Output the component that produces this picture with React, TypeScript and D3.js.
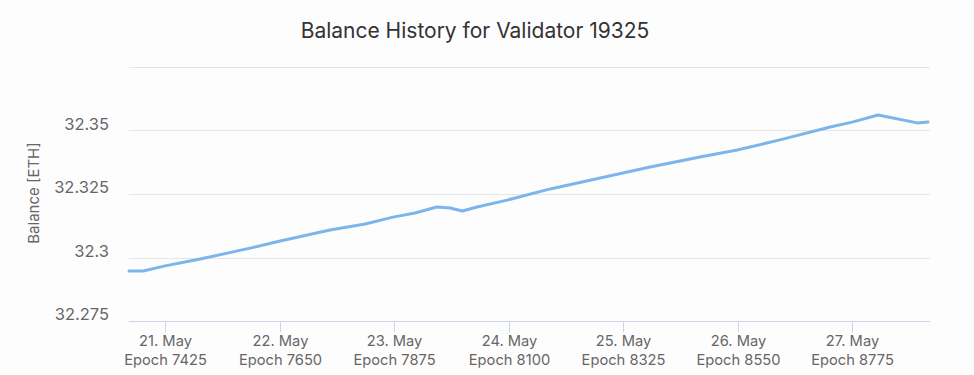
import React, { useEffect, useRef } from "react";
import * as d3 from "d3";

const WIDTH = 974;
const HEIGHT = 375;
const MARGIN = { top: 67, right: 44, bottom: 54, left: 129 };

const TITLE = "Balance History for Validator 19325";
const Y_TITLE = "Balance [ETH]";

const epochs = [
  7354, 7382, 7425, 7494, 7592, 7651, 7749, 7818, 7873, 7916, 7959, 7985,
  8009, 8038, 8097, 8182, 8280, 8378, 8476, 8549, 8633, 8732, 8775, 8826,
  8903, 8924,
];
const balances = [
  32.2947, 32.2947, 32.2967, 32.2994, 32.3037, 32.3065, 32.3108, 32.3132,
  32.3159, 32.3175, 32.3199, 32.3195, 32.3183, 32.3199, 32.3226, 32.327,
  32.3313, 32.3356, 32.3396, 32.3423, 32.3463, 32.3514, 32.3533, 32.3561,
  32.353, 32.3533,
];

const tickEpochs = [7425, 7650, 7875, 8100, 8325, 8550, 8775];
const tickDates = ["21. May", "22. May", "23. May", "24. May", "25. May", "26. May", "27. May"];
const yTicks = [32.275, 32.3, 32.325, 32.35, 32.375];
const yTickLabels = ["32.275", "32.3", "32.325", "32.35", ""];

const FONT = "Inter, 'Open Sans', sans-serif";

export default function App() {
  const ref = useRef<SVGGElement>(null);
  const boundsWidth = WIDTH - MARGIN.left - MARGIN.right;
  const boundsHeight = HEIGHT - MARGIN.top - MARGIN.bottom;

  useEffect(() => {
    const g = d3.select(ref.current);
    g.selectAll("*").remove();

    const x = d3.scaleLinear().domain([7354, 8928]).range([0, boundsWidth]);
    const y = d3.scaleLinear().domain([32.275, 32.375]).range([boundsHeight, 0]);

    // grid
    g.selectAll("line.grid")
      .data(yTicks.slice(1))
      .enter()
      .append("line")
      .attr("x1", 0)
      .attr("x2", boundsWidth)
      .attr("y1", (d) => Math.round(y(d)) + 0.5)
      .attr("y2", (d) => Math.round(y(d)) + 0.5)
      .attr("stroke", "#e6e6e6")
      .attr("stroke-width", 1);

    // y labels
    g.selectAll("text.ylab")
      .data(yTicks)
      .enter()
      .append("text")
      .attr("x", -20)
      .attr("y", (d) => y(d) - 1)
      .attr("text-anchor", "end")
      .attr("font-family", FONT)
      .attr("font-size", 16.5)
      .attr("fill", "#666666")
      .text((d, i) => yTickLabels[i]);

    // x axis line
    g.append("line")
      .attr("x1", 0)
      .attr("x2", boundsWidth)
      .attr("y1", boundsHeight + 0.5)
      .attr("y2", boundsHeight + 0.5)
      .attr("stroke", "#ccd6eb");

    const ticks = g
      .selectAll("g.xtick")
      .data(tickEpochs)
      .enter()
      .append("g")
      .attr("transform", (d) => `translate(${Math.round(x(d)) + 0.5},${boundsHeight})`);

    ticks.append("line").attr("y1", 0).attr("y2", 11).attr("stroke", "#ccd6eb");

    ticks
      .append("text")
      .attr("y", 25)
      .attr("text-anchor", "middle")
      .attr("font-family", FONT)
      .attr("font-size", 14.7)
      .attr("fill", "#666666")
      .text((d, i) => tickDates[i]);

    ticks
      .append("text")
      .attr("y", 44)
      .attr("text-anchor", "middle")
      .attr("font-family", FONT)
      .attr("font-size", 14.7)
      .attr("fill", "#666666")
      .text((d) => `Epoch ${d}`);

    // line
    const data = epochs.map((e, i) => ({ e, v: balances[i] }));
    const line = d3
      .line<{ e: number; v: number }>()
      .x((d) => x(d.e))
      .y((d) => y(d.v));

    g.append("path")
      .datum(data)
      .attr("d", line)
      .attr("fill", "none")
      .attr("stroke", "#7cb5ec")
      .attr("stroke-width", 3)
      .attr("stroke-linejoin", "round")
      .attr("stroke-linecap", "round");
  }, [boundsWidth, boundsHeight]);

  return (
    <div style={{ position: "absolute", left: 0, top: 0 }}>
      <svg width={WIDTH} height={HEIGHT} style={{ display: "block", background: "#fefdfe" }}>
        <text
          x={475}
          y={38}
          textAnchor="middle"
          fontFamily={FONT}
          fontSize={21}
          fill="#333333"
        >
          {TITLE}
        </text>
        <text
          transform={`translate(39, 193) rotate(-90)`}
          textAnchor="middle"
          fontFamily={FONT}
          fontSize={15}
          fill="#666666"
        >
          {Y_TITLE}
        </text>
        <g ref={ref} transform={`translate(${MARGIN.left},${MARGIN.top})`} />
      </svg>
    </div>
  );
}
